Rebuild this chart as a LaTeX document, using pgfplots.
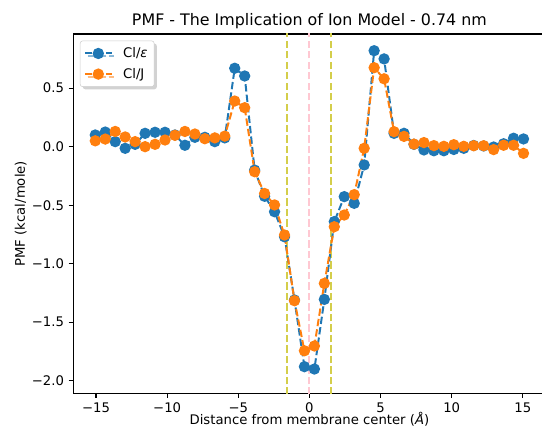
\documentclass[border=0pt]{standalone}
\usepackage{fontspec}
\setmainfont{DejaVu Sans}
\usepackage{pgfplots}
\usepackage{pgfplotstable}
\pgfplotsset{compat=1.18}
\usetikzlibrary{shadows}
\definecolor{mblue}{HTML}{1F77B4}
\definecolor{morange}{HTML}{FF7F0E}
\definecolor{myel}{RGB}{212,206,75}
\definecolor{mpink}{RGB}{255,200,210}

\pgfplotstableread{
x      eps     J
-15.05 0.100   0.050
-14.35 0.125   0.065
-13.65 0.043   0.130
-12.95 -0.014  0.083
-12.25 0.020   0.043
-11.55 0.114   0.000
-10.85 0.123   0.020
-10.15 0.123   0.057
-9.45  0.100   0.097
-8.75  0.012   0.130
-8.05  0.080   0.108
-7.35  0.080   0.068
-6.65  0.043   0.075
-5.95  0.075   0.090
-5.25  0.670   0.390
-4.55  0.604   0.333
-3.85  -0.200  -0.214
-3.15  -0.424  -0.400
-2.45  -0.556  -0.498
-1.75  -0.770  -0.755
-1.05  -1.310  -1.316
-0.35  -1.880  -1.744
0.35   -1.900  -1.703
1.05   -1.305  -1.168
1.75   -0.640  -0.684
2.45   -0.427  -0.584
3.15   -0.484  -0.410
3.85   -0.156  -0.014
4.55   0.820   0.675
5.25   0.750   0.580
5.95   0.114   0.128
6.65   0.114   0.088
7.35   0.020   0.022
8.05   -0.028  0.035
8.75   -0.035  0.009
9.45   -0.035  0.003
10.15  -0.024  0.017
10.85  -0.014  0.003
11.55  0.010   0.008
12.25  0.006   0.008
12.95  -0.003  -0.025
13.65  0.025   0.012
14.35  0.072   0.012
15.05  0.066   -0.057
}\pmfdata

\begin{document}
\begin{tikzpicture}
\begin{axis}[
  scale only axis, width=357.2pt, height=271.8pt,
  xmin=-16.6, xmax=16.6, ymin=-2.108, ymax=0.963,
  axis line style={line width=0.8pt},
  tick align=outside, tick pos=left, major tick length=3.5pt,
  every tick/.style={black, line width=0.8pt},
  xtick={-15,-10,-5,0,5,10,15},
  xticklabels={−15,−10,−5,0,5,10,15},
  ytick={-2,-1.5,-1,-0.5,0,0.5},
  yticklabels={−2.0,−1.5,−1.0,−0.5,0.0,0.5},
  tick label style={font=\fontsize{10}{12}\selectfont},
  label style={font=\fontsize{10}{12}\selectfont},
  xlabel={Distance from membrane center (\textit{Å})},
  xlabel style={yshift=7.5pt},
  ylabel={PMF (kcal/mole)},
  ylabel style={yshift=-3pt},
  title={PMF - The Implication of Ion Model - 0.74 nm},
  title style={font=\fontsize{12}{14}\selectfont, at={(0.5,1)}, anchor=south, inner sep=0pt, yshift=-2.5pt},
  legend style={at={(0,1)}, anchor=north west, xshift=5pt, yshift=-5pt,
    draw=black!20, rounded corners=2pt, fill=white,
    drop shadow={shadow xshift=2pt, shadow yshift=-2pt, fill=black!35},
    font=\fontsize{10}{12}\selectfont, inner xsep=3pt, inner ysep=3pt,
    row sep=2.5pt},
  legend cell align=left,
  legend image code/.code={\draw[mark repeat=2,mark phase=2] plot coordinates {(0pt,0pt)(10pt,0pt)(20pt,0pt)};},
]
\addplot[forget plot, myel, line width=1.5pt, dash pattern=on 5.55pt off 2.4pt] coordinates {(-1.55,-2.3) (-1.55,1.1)};
\addplot[forget plot, myel, line width=1.5pt, dash pattern=on 5.55pt off 2.4pt] coordinates {(1.55,-2.3) (1.55,1.1)};
\addplot[forget plot, mpink, line width=1.5pt, dash pattern=on 5.55pt off 2.4pt] coordinates {(0,-2.3) (0,1.1)};
\addplot[mblue, line width=1.5pt, dash pattern=on 5.55pt off 2.4pt, mark=*, mark size=3.5pt, mark options={solid, fill=mblue, draw=mblue}] table[x=x, y=eps] {\pmfdata};
\addlegendentry{\hspace{6pt}Cl/\textit{ε}}
\addplot[morange, line width=1.5pt, dash pattern=on 5.55pt off 2.4pt, mark=*, mark size=3.5pt, mark options={solid, fill=morange, draw=morange}] table[x=x, y=J] {\pmfdata};
\addlegendentry{\hspace{6pt}Cl/J}
\end{axis}
\pgfresetboundingbox
\path[use as bounding box] ([shift={(-55.4pt,-25.5pt)}]current axis.south west) rectangle ([shift={(354.5pt,25.7pt)}]current axis.north west);
\end{tikzpicture}
\end{document}
